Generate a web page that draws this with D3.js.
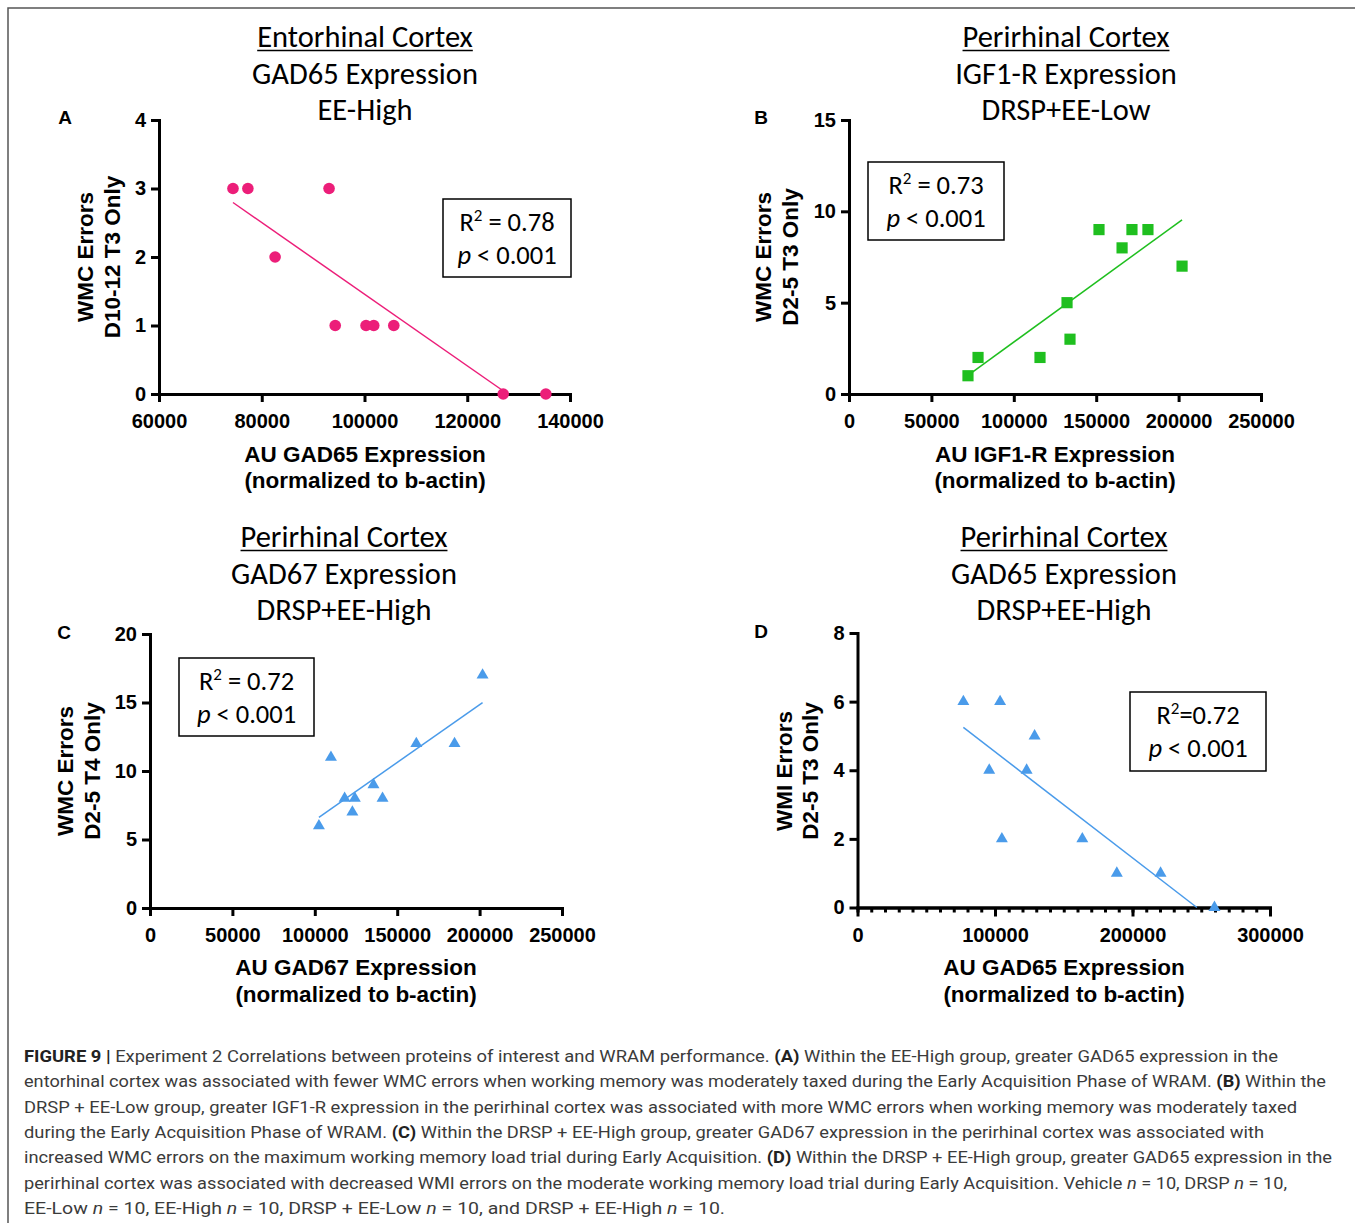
<!DOCTYPE html>
<html lang="en">
<head>
<meta charset="utf-8">
<title>Figure 9 correlations</title>
<script src="https://d3js.org/d3.v7.min.js"></script>
<style>
  body { margin: 0; background: #fff; }
  .title { font-family: Carlito, Lato, sans-serif; font-size: 30.5px; fill: #000; }
  .stat { font-family: Carlito, Lato, sans-serif; font-size: 26.5px; fill: #000; }
  .lab { font-family: "Liberation Sans", Arial, sans-serif; font-weight: bold; font-size: 22.5px; fill: #000; }
  .letter { font-family: "Liberation Sans", Arial, sans-serif; font-weight: bold; font-size: 19px; fill: #000; }
  .caption { font-family: Roboto, "Liberation Sans", sans-serif; font-size: 17px; fill: #3b3b3b; }
</style>
</head>
<body>
<div id="main"></div>
<script>
// ---- data ----
// A: entorhinal GAD65, EE-High
var aX = [74400, 77300, 93100, 82600, 94300, 100300, 101800, 105700, 127000, 135300];
var aY = [3, 3, 3, 2, 1, 1, 1, 1, 0, 0];
var aXTicks = [60000, 80000, 100000, 120000, 140000];
var aYTicks = [0, 1, 2, 3, 4];
// B: perirhinal IGF1-R, DRSP+EE-Low
var bX = [72200, 78300, 115900, 132300, 134100, 151700, 165700, 171700, 181400, 202100];
var bY = [1, 2, 2, 5, 3, 9, 8, 9, 9, 7];
var bXTicks = [0, 50000, 100000, 150000, 200000, 250000];
var bYTicks = [0, 5, 10, 15];
// C: perirhinal GAD67, DRSP+EE-High
var cX = [102500, 109800, 118100, 124300, 122800, 135600, 141100, 161600, 184800, 201800];
var cY = [6, 11, 8, 8, 7, 9, 8, 12, 12, 17];
var cXTicks = [0, 50000, 100000, 150000, 200000, 250000];
var cYTicks = [0, 5, 10, 15, 20];
// D: perirhinal GAD65, DRSP+EE-High
var dX = [77000, 103700, 128800, 95800, 123000, 105000, 163500, 188600, 220400, 259600];
var dY = [6, 6, 5, 4, 4, 2, 2, 1, 1, 0];
var dXTicks = [0, 100000, 200000, 300000];
var dYTicks = [0, 2, 4, 6, 8];

var aTitle = ["Entorhinal Cortex", "GAD65 Expression", "EE-High"];
var bTitle = ["Perirhinal Cortex", "IGF1-R Expression", "DRSP+EE-Low"];
var cTitle = ["Perirhinal Cortex", "GAD67 Expression", "DRSP+EE-High"];
var dTitle = ["Perirhinal Cortex", "GAD65 Expression", "DRSP+EE-High"];

var r2Text = [" = 0.78", " = 0.73", " = 0.72", "=0.72"];
var pText = " < 0.001";

var captionLines = [
  [["FIGURE 9 | ", "b"], ["Experiment 2 Correlations between proteins of interest and WRAM performance. "], ["(A)", "b"], [" Within the EE-High group, greater GAD65 expression in the"]],
  [["entorhinal cortex was associated with fewer WMC errors when working memory was moderately taxed during the Early Acquisition Phase of WRAM. "], ["(B)", "b"], [" Within the"]],
  [["DRSP + EE-Low group, greater IGF1-R expression in the perirhinal cortex was associated with more WMC errors when working memory was moderately taxed"]],
  [["during the Early Acquisition Phase of WRAM. "], ["(C)", "b"], [" Within the DRSP + EE-High group, greater GAD67 expression in the perirhinal cortex was associated with"]],
  [["increased WMC errors on the maximum working memory load trial during Early Acquisition. "], ["(D)", "b"], [" Within the DRSP + EE-High group, greater GAD65 expression in the"]],
  [["perirhinal cortex was associated with decreased WMI errors on the moderate working memory load trial during Early Acquisition. Vehicle "], ["n", "i"], [" = 10, DRSP "], ["n", "i"], [" = 10,"]],
  [["EE-Low "], ["n", "i"], [" = 10, EE-High "], ["n", "i"], [" = 10, DRSP + EE-Low "], ["n", "i"], [" = 10, and DRSP + EE-High "], ["n", "i"], [" = 10."]]
];
var captionEnds = [1278, 1326, 1297, 1264, 1332, 1287, 725];

var width = 1355, height = 1223;

var svg = d3.select("div#main")
    .append("svg")
    .attr("width", width)
    .attr("height", height);

// frame round the figure
svg.append("path")
    .attr("d", "M8,1240 V8 H1370")
    .attr("fill", "none")
    .attr("stroke", "#555")
    .attr("stroke-width", 1.5);

var panels = [
  {letter: "A", xs: aX, ys: aY, xTicks: aXTicks, yTicks: aYTicks, xDom: [60000, 140000], yDom: [0, 4],
   left: 159, right: 570, top: 120, bottom: 394, color: "#ec1e79", shape: "circle",
   title: aTitle, titleX: 365, titleY: 47, letterX: 65, letterY: 124,
   yLab: ["WMC Errors", "D10-12 T3 Only"], yLabX: [85, 112], yLabY: 257,
   xLab: ["AU GAD65 Expression", "(normalized to b-actin)"], xLabX: 365, xLabY: [462, 488],
   box: [443, 199, 128, 78], r2: r2Text[0]},
  {letter: "B", xs: bX, ys: bY, xTicks: bXTicks, yTicks: bYTicks, xDom: [0, 250000], yDom: [0, 15],
   left: 849, right: 1261, top: 120, bottom: 394, color: "#1fbf1f", shape: "square",
   title: bTitle, titleX: 1066, titleY: 47, letterX: 761, letterY: 124,
   yLab: ["WMC Errors", "D2-5 T3 Only"], yLabX: [763, 790], yLabY: 257,
   xLab: ["AU IGF1-R Expression", "(normalized to b-actin)"], xLabX: 1055, xLabY: [462, 488],
   box: [868, 162, 136, 78], r2: r2Text[1]},
  {letter: "C", xs: cX, ys: cY, xTicks: cXTicks, yTicks: cYTicks, xDom: [0, 250000], yDom: [0, 20],
   left: 150, right: 562, top: 634, bottom: 908, color: "#4a9bea", shape: "triangle",
   title: cTitle, titleX: 344, titleY: 547, letterX: 64, letterY: 639,
   yLab: ["WMC Errors", "D2-5 T4 Only"], yLabX: [65, 92], yLabY: 771,
   xLab: ["AU GAD67 Expression", "(normalized to b-actin)"], xLabX: 356, xLabY: [975, 1002],
   box: [179, 658, 135, 78], r2: r2Text[2]},
  {letter: "D", xs: dX, ys: dY, xTicks: dXTicks, yTicks: dYTicks, xDom: [0, 300000], yDom: [0, 8],
   left: 857.5, right: 1270, top: 633, bottom: 907.5, color: "#4a9bea", shape: "triangle", minor: true,
   title: dTitle, titleX: 1064, titleY: 547, letterX: 761, letterY: 638,
   yLab: ["WMI Errors", "D2-5 T3 Only"], yLabX: [784, 810], yLabY: 771,
   xLab: ["AU GAD65 Expression", "(normalized to b-actin)"], xLabX: 1064, xLabY: [975, 1002],
   box: [1130, 692, 136, 79], r2: r2Text[3]}
];

function styleAxis(sel) {
  sel.attr("font-family", "'Liberation Sans', Arial, sans-serif")
     .attr("font-size", 20)
     .attr("font-weight", "bold");
  sel.select(".domain").attr("stroke-width", 3).attr("stroke-linecap", "square");
  sel.selectAll(".tick line").attr("stroke-width", 3);
  sel.selectAll(".tick text").attr("fill", "#000");
}

function fitLine(xs, ys) {
  var mx = d3.mean(xs), my = d3.mean(ys);
  var sxy = d3.sum(xs, function(v, i){ return (v - mx) * (ys[i] - my); });
  var sxx = d3.sum(xs, function(v){ return (v - mx) * (v - mx); });
  var b = sxy / sxx, a = my - b * mx;
  var x0 = d3.min(xs), x1 = d3.max(xs);
  // stop where the line meets the x axis
  if (a + b * x1 < 0) x1 = -a / b;
  return [[x0, a + b * x0], [x1, a + b * x1]];
}

panels.forEach(function(p) {
  var g = svg.append("g");
  var x = d3.scaleLinear().domain(p.xDom).range([p.left, p.right]);
  var y = d3.scaleLinear().domain(p.yDom).range([p.bottom, p.top]);

  // titles
  p.title.forEach(function(t, i) {
    var tx = g.append("text").attr("class", "title")
        .attr("x", p.titleX).attr("y", p.titleY + i * 36.5)
        .attr("text-anchor", "middle").text(t);
    if (i == 0) {
      var w = tx.node().getComputedTextLength();
      g.append("line")
          .attr("x1", p.titleX - w / 2).attr("x2", p.titleX + w / 2)
          .attr("y1", p.titleY + 3.5).attr("y2", p.titleY + 3.5)
          .attr("stroke", "#000").attr("stroke-width", 1.7);
    }
  });

  g.append("text").attr("class", "letter")
      .attr("x", p.letterX).attr("y", p.letterY)
      .attr("text-anchor", "middle").text(p.letter);

  // axes
  if (p.minor) {
    g.append("g").attr("transform", "translate(0," + p.bottom + ")")
        .call(d3.axisBottom(x).ticks(30).tickSize(5).tickSizeOuter(0).tickFormat(""))
        .call(styleAxis);
  }
  g.append("g").attr("transform", "translate(0," + p.bottom + ")")
      .call(d3.axisBottom(x).tickValues(p.xTicks).tickSize(p.minor ? 9 : 8).tickSizeOuter(0)
            .tickPadding(p.minor ? 11 : 12).tickFormat(d3.format("d")))
      .call(styleAxis);
  g.append("g").attr("transform", "translate(" + p.left + ",0)")
      .call(d3.axisLeft(y).tickValues(p.yTicks).tickSize(8).tickSizeOuter(0).tickPadding(5)
            .tickFormat(d3.format("d")))
      .call(styleAxis);

  // axis titles
  p.yLab.forEach(function(t, i) {
    g.append("text").attr("class", "lab")
        .attr("transform", "translate(" + p.yLabX[i] + "," + p.yLabY + ") rotate(-90)")
        .attr("text-anchor", "middle").attr("dy", "0.35em").text(t);
  });
  p.xLab.forEach(function(t, i) {
    g.append("text").attr("class", "lab")
        .attr("x", p.xLabX).attr("y", p.xLabY[i])
        .attr("text-anchor", "middle").text(t);
  });

  // regression line
  var fl = fitLine(p.xs, p.ys);
  g.append("line")
      .attr("x1", x(fl[0][0])).attr("y1", y(fl[0][1]))
      .attr("x2", x(fl[1][0])).attr("y2", y(fl[1][1]))
      .attr("stroke", p.color).attr("stroke-width", 1.5);

  // points
  var pts = p.xs.map(function(v, i){ return [v, p.ys[i]]; });
  if (p.shape == "circle") {
    g.selectAll("circle.pt").data(pts).enter().append("circle")
        .attr("class", "pt")
        .attr("cx", function(d){ return x(d[0]); })
        .attr("cy", function(d){ return y(d[1]); })
        .attr("r", 5.8)
        .attr("fill", p.color);
  } else {
    var sym = d3.symbol()
        .type(p.shape == "square" ? d3.symbolSquare : d3.symbolTriangle)
        .size(p.shape == "square" ? 125 : 62);
    g.selectAll("path.pt").data(pts).enter().append("path")
        .attr("class", "pt")
        .attr("transform", function(d){ return "translate(" + x(d[0]) + "," + y(d[1]) + ")"; })
        .attr("d", sym)
        .attr("fill", p.color);
  }

  // stats box
  var bx = p.box;
  g.append("rect")
      .attr("x", bx[0]).attr("y", bx[1]).attr("width", bx[2]).attr("height", bx[3])
      .attr("fill", "#fff").attr("stroke", "#000").attr("stroke-width", 1.5);
  var cx = bx[0] + bx[2] / 2;
  var t1 = g.append("text").attr("class", "stat")
      .attr("x", cx).attr("y", bx[1] + 32).attr("text-anchor", "middle");
  t1.append("tspan").text("R");
  t1.append("tspan").attr("font-size", 17).attr("dy", -10).text("2");
  t1.append("tspan").attr("dy", 10).text(p.r2);
  var t2 = g.append("text").attr("class", "stat")
      .attr("x", cx).attr("y", bx[1] + 65).attr("text-anchor", "middle");
  t2.append("tspan").attr("font-style", "italic").text("p");
  t2.append("tspan").text(pText);
});

// caption
captionLines.forEach(function(line, i) {
  var t = svg.append("text").attr("class", "caption")
      .attr("x", 24).attr("y", 1062 + i * 25.3);
  line.forEach(function(seg) {
    var s = t.append("tspan").text(seg[0]);
    if (seg[1] == "b") s.attr("font-weight", "bold").attr("fill", "#222");
    if (seg[1] == "i") s.attr("font-style", "italic");
  });
  t.attr("textLength", captionEnds[i] - 24).attr("lengthAdjust", "spacingAndGlyphs");
});
</script>
</body>
</html>
